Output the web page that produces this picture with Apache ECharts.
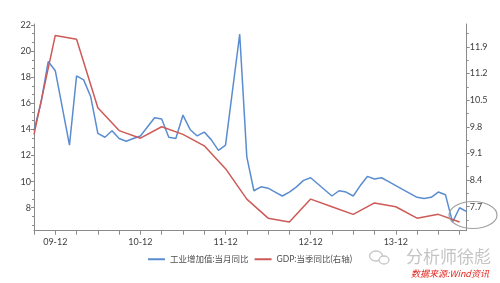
<!DOCTYPE html>
<html>
<head>
<meta charset="utf-8">
<script src="https://cdn.jsdelivr.net/npm/echarts@6/dist/echarts.min.js"></script>
<style>html,body{margin:0;padding:0;background:#fff}#c{width:500px;height:283px}</style>
</head>
<body>
<div id="c"></div>
<script>
// Monthly categories 2009-09 .. 2014-10
const months = [
 '09-09','09-10','09-11','09-12',
 '10-01','10-02','10-03','10-04','10-05','10-06','10-07','10-08','10-09','10-10','10-11','10-12',
 '11-01','11-02','11-03','11-04','11-05','11-06','11-07','11-08','11-09','11-10','11-11','11-12',
 '12-01','12-02','12-03','12-04','12-05','12-06','12-07','12-08','12-09','12-10','12-11','12-12',
 '13-01','13-02','13-03','13-04','13-05','13-06','13-07','13-08','13-09','13-10','13-11','13-12',
 '14-01','14-02','14-03','14-04','14-05','14-06','14-07','14-08','14-09','14-10'
];
// 工业增加值:当月同比 (left axis)
const ipValues = [
 13.9,16.1,19.2,18.5,
 null,12.8,18.1,17.8,16.5,13.7,13.4,13.9,13.3,13.1,13.3,13.5,
 null,14.9,14.8,13.4,13.3,15.1,14.0,13.5,13.8,13.2,12.4,12.8,
 null,21.3,11.9,9.3,9.6,9.5,9.2,8.9,9.2,9.6,10.1,10.3,
 null,null,8.9,9.3,9.2,8.9,9.7,10.4,10.2,10.3,10.0,9.7,
 null,null,8.8,8.7,8.8,9.2,9.0,6.9,8.0,7.7
];
// GDP:当季同比 (right axis), quarterly
const gdpQuarters = ['09-09','09-12','10-03','10-06','10-09','10-12','11-03','11-06','11-09','11-12',
 '12-03','12-06','12-09','12-12','13-03','13-06','13-09','13-12','14-03','14-06','14-09'];
const gdpValues = [9.6,12.2,12.1,10.3,9.7,9.5,9.8,9.6,9.3,8.7,
 7.9,7.4,7.3,7.9,7.7,7.5,7.8,7.7,7.4,7.5,7.3];
// tick labels
const leftTicks = [8,10,12,14,16,18,20,22];
const rightTicks = [7.7,8.4,9.1,9.8,10.5,11.2,11.9];
const seriesNames = ['工业增加值:当月同比','GDP:当季同比(右轴)'];

const leftMinor = [];
[6].concat(leftTicks).forEach(v => { leftMinor.push(v + 2/3, v + 4/3); });
const rightMinor = [7.35].concat(rightTicks.map(v => v + 0.35));

const FONT = 'Lato, "Noto Sans CJK SC", sans-serif';
const axisColor = '#8a8a8a';
const labelColor = '#404040';
const LMIN = 6.24, LMAX = 22.08, RMIN = 7.07, RMAX = 12.5;

const chart = echarts.init(document.getElementById('c'), null, {renderer: 'canvas'});
chart.setOption({
  animation: false,
  backgroundColor: '#fff',
  grid: {left: 34, right: 33.3, top: 24, bottom: 52.3},
  legend: {
    top: 250, left: 'center', itemWidth: 17, itemHeight: 2, itemGap: 6,
    textStyle: {fontSize: 8.5, color: '#505050', fontFamily: FONT},
    data: [{name: seriesNames[0], icon: 'rect'}, {name: seriesNames[1], icon: 'rect'}]
  },
  xAxis: {
    type: 'category', data: months, boundaryGap: false,
    axisLine: {lineStyle: {color: axisColor, width: 1}},
    axisTick: {interval: (i) => i % 3 === 0, length: 4, lineStyle: {color: axisColor}},
    axisLabel: {interval: (i) => (i - 3) % 12 === 0, color: labelColor, fontSize: 9, margin: 7, fontFamily: FONT},
    splitLine: {show: false}
  },
  yAxis: [
    {type: 'value', position: 'left', min: LMIN, max: LMAX,
     axisLine: {show: true, lineStyle: {color: axisColor}},
     axisTick: {show: true, length: 3, customValues: leftTicks, lineStyle: {color: axisColor}},
     axisLabel: {customValues: leftTicks, color: labelColor, fontSize: 9, margin: 3, fontFamily: FONT},
     splitLine: {show: false}},
    {type: 'value', position: 'right', min: RMIN, max: RMAX,
     axisLine: {show: true, lineStyle: {color: axisColor}},
     axisTick: {show: true, length: 3, customValues: rightTicks, lineStyle: {color: axisColor}},
     axisLabel: {customValues: rightTicks, color: labelColor, fontSize: 9, margin: 3, fontFamily: FONT,
                 formatter: (v) => v.toFixed(1)},
     splitLine: {show: false}},
    {type: 'value', position: 'left', min: LMIN, max: LMAX,
     axisLine: {show: false},
     axisTick: {show: true, length: 2, customValues: leftMinor, lineStyle: {color: axisColor}},
     axisLabel: {show: false}, splitLine: {show: false}},
    {type: 'value', position: 'right', min: RMIN, max: RMAX,
     axisLine: {show: false},
     axisTick: {show: true, length: 2, customValues: rightMinor, lineStyle: {color: axisColor}},
     axisLabel: {show: false}, splitLine: {show: false}}
  ],
  series: [
    {name: seriesNames[0], type: 'line', yAxisIndex: 0, data: ipValues, connectNulls: true,
     showSymbol: false, symbol: 'none', lineStyle: {color: '#5a8dd0', width: 1.5}, itemStyle: {color: '#5a8dd0'}},
    {name: seriesNames[1], type: 'line', yAxisIndex: 1,
     data: gdpQuarters.map((m, i) => [m, gdpValues[i]]), connectNulls: true,
     showSymbol: false, symbol: 'none', lineStyle: {color: '#cd5a57', width: 1.5}, itemStyle: {color: '#cd5a57'}}
  ],
  graphic: [
    {type: 'ellipse', shape: {cx: 473, cy: 215, rx: 24, ry: 13.5}, silent: true, z: 100,
     style: {fill: 'none', stroke: '#a0a0a0', lineWidth: 1.2}},
    {type: 'ellipse', shape: {cx: 376, cy: 256, rx: 6.5, ry: 5}, silent: true,
     style: {fill: 'none', stroke: '#c6c6c6', lineWidth: 1.3}},
    {type: 'ellipse', shape: {cx: 384, cy: 260, rx: 5, ry: 4}, silent: true,
     style: {fill: '#fff', stroke: '#c6c6c6', lineWidth: 1.3}},
    {type: 'text', x: 406, y: 257, silent: true,
     style: {text: '分析师徐彪', fill: '#c4c4c4', font: '17px "Noto Sans CJK SC", sans-serif', verticalAlign: 'middle'}},
    {type: 'text', x: 411, y: 274, silent: true,
     style: {text: '数据来源:Wind资讯', fill: '#e3261f', font: 'italic 9px "Noto Sans CJK SC", sans-serif', verticalAlign: 'middle'}}
  ]
});
</script>
</body>
</html>
